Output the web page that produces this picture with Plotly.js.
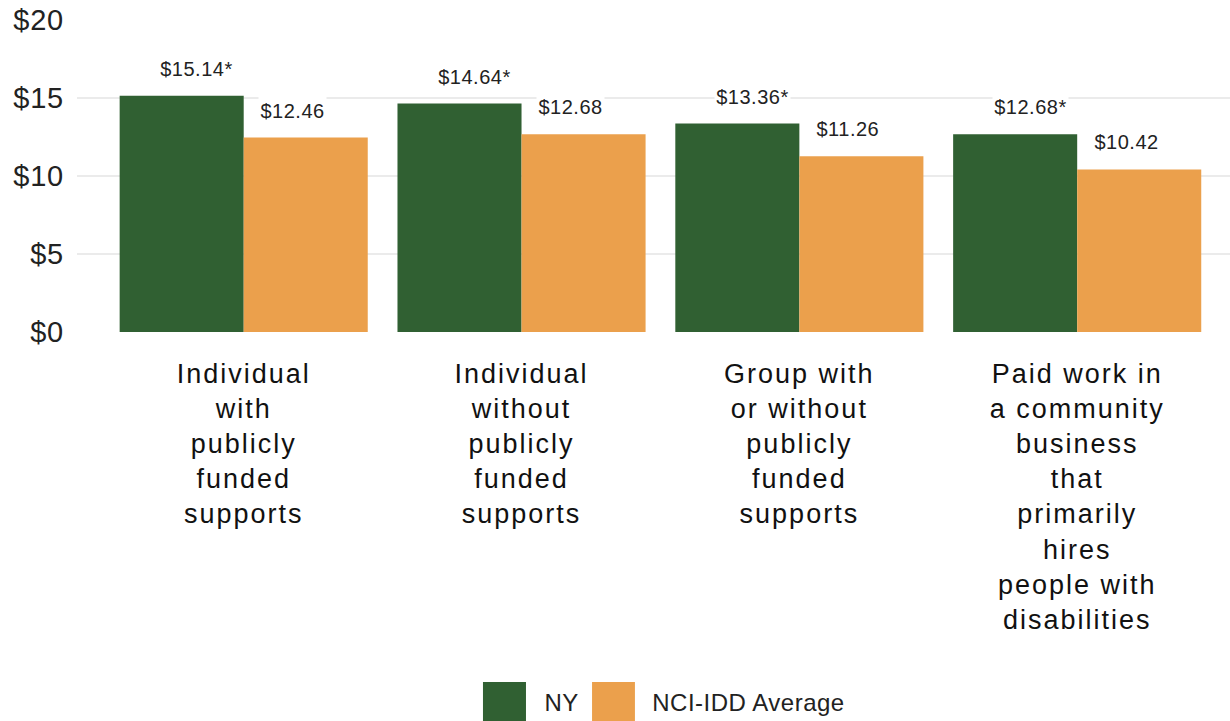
<!DOCTYPE html>
<html>
<head>
<meta charset="utf-8">
<script src="https://cdn.plot.ly/plotly-3.0.1.min.js"></script>
<style>
html,body{margin:0;padding:0;background:#fff;}
#chart{width:1230px;height:721px;}
#chart .xtick text{letter-spacing:2px;}
#chart .ytick text{letter-spacing:0.8px;}
#chart .annotation-text{letter-spacing:0.5px;}
</style>
</head>
<body>
<div id="chart"></div>
<script>
var categories = [
  "Individual<br>with<br>publicly<br>funded<br>supports",
  "Individual<br>without<br>publicly<br>funded<br>supports",
  "Group with<br>or without<br>publicly<br>funded<br>supports",
  "Paid work in<br>a community<br>business<br>that<br>primarily<br>hires<br>people with<br>disabilities"
];
var nyValues = [15.14, 14.64, 13.36, 12.68];
var avgValues = [12.46, 12.68, 11.26, 10.42];
var nyLabels = ["$15.14*", "$14.64*", "$13.36*", "$12.68*"];
var avgLabels = ["$12.46", "$12.68", "$11.26", "$10.42"];
var seriesNames = ["NY", "NCI-IDD Average"];
var colors = ["#306032", "#EBA04C"];
var yTicks = [0, 5, 10, 15, 20];
var yTickText = ["$0", "$5", "$10", "$15", "$20"];

var FONT = "Liberation Sans, Arial, sans-serif";

var traces = [
  {type: "bar", name: seriesNames[0], x: categories, y: nyValues,
   marker: {color: colors[0]}, hoverinfo: "none"},
  {type: "bar", name: seriesNames[1], x: categories, y: avgValues,
   marker: {color: colors[1]}, hoverinfo: "none"}
];

var annotations = [];
categories.forEach(function(c, i) {
  annotations.push({x: c, y: nyValues[i], xref: "x", yref: "y", text: nyLabels[i],
    showarrow: false, xshift: -47, yshift: 27, yanchor: "middle",
    bgcolor: "#ffffff", borderpad: 3, font: {family: FONT, size: 20, color: "#222"}});
  annotations.push({x: c, y: avgValues[i], xref: "x", yref: "y", text: avgLabels[i],
    showarrow: false, xshift: 49, yshift: 27, yanchor: "middle",
    bgcolor: "#ffffff", borderpad: 3, font: {family: FONT, size: 20, color: "#222"}});
});

// custom legend (large swatches)
var legendSwatches = [[0.3521, 0.3894], [0.4467, 0.4839]];
var legendTextX = [0.4042, 0.5005];
var shapes = [];
seriesNames.forEach(function(n, i) {
  shapes.push({type: "rect", xref: "paper", yref: "paper",
    x0: legendSwatches[i][0], x1: legendSwatches[i][1], y0: -1.1218, y1: -1.2564,
    fillcolor: colors[i], line: {width: 0}});
  annotations.push({xref: "paper", yref: "paper", x: legendTextX[i], y: -1.189,
    xanchor: "left", yanchor: "middle", showarrow: false, text: n,
    font: {family: FONT, size: 24, color: "#222"}});
});

var layout = {
  width: 1230, height: 721,
  margin: {l: 77, r: 0, t: 20, b: 389},
  paper_bgcolor: "#ffffff", plot_bgcolor: "#ffffff",
  barmode: "group", bargap: 0.107, bargroupgap: 0,
  showlegend: false,
  font: {family: FONT, color: "#222"},
  xaxis: {type: "category", range: [-0.6, 3.55], showgrid: false, zeroline: false,
    showline: false, ticks: "", tickfont: {family: FONT, size: 27, color: "#111"},
    ticklabelstandoff: 23, fixedrange: true},
  yaxis: {range: [0, 20], tickvals: yTicks, ticktext: yTickText, showgrid: true,
    gridcolor: "#EBEBEB", gridwidth: 1.5, zeroline: false, showline: false, ticks: "",
    tickfont: {family: FONT, size: 29, color: "#222"}, ticklabelstandoff: 12, fixedrange: true},
  annotations: annotations,
  shapes: shapes
};

Plotly.newPlot("chart", traces, layout, {displayModeBar: false, staticPlot: true});
</script>
</body>
</html>
